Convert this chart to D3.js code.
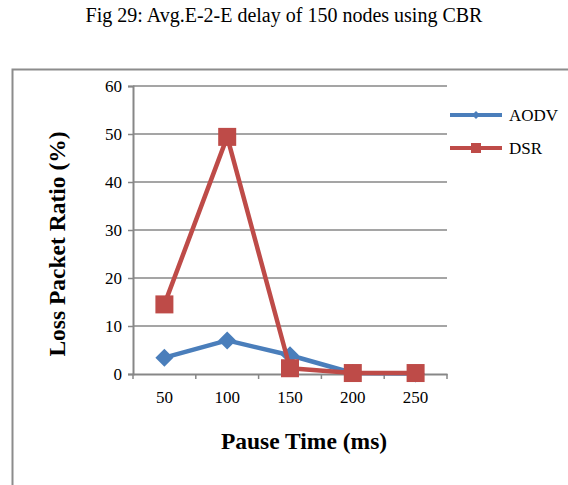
<!DOCTYPE html>
<html>
<head>
<meta charset="utf-8">
<script src="https://cdn.jsdelivr.net/npm/d3@7"></script>
<style>
  html, body { margin: 0; padding: 0; background: #fff; }
  svg { display: block; }
</style>
</head>
<body>
<svg id="chart" width="568" height="485"></svg>
<script>
// Pause time categories and loss packet ratio per routing protocol
const pauseTimes = ["50", "100", "150", "200", "250"];
const aodv = [3.4, 7.0, 3.9, 0.2, 0.1];
const dsr = [14.5, 49.4, 1.2, 0.2, 0.2];
const yTicks = [0, 10, 20, 30, 40, 50, 60];
const seriesNames = ["AODV", "DSR"];

const svg = d3.select("#chart");
const serif = "'Liberation Serif', 'Times New Roman', serif";

// Caption above the chart frame
svg.append("text")
  .attr("x", 284).attr("y", 22)
  .attr("text-anchor", "middle")
  .attr("font-family", serif).attr("font-size", 20)
  .text("Fig 29: Avg.E-2-E delay of 150 nodes using CBR");

// Chart frame (runs off the right and bottom edges)
svg.append("path")
  .attr("d", "M12.5,490 V69.5 H580")
  .attr("fill", "none").attr("stroke", "#8c8c8c").attr("stroke-width", 2);

const plot = { left: 133, right: 447, top: 86, bottom: 374 };

const x = d3.scaleBand().domain(pauseTimes).range([plot.left, plot.right]);
const y = d3.scaleLinear().domain([0, 60]).range([plot.bottom, plot.top]);

const grid = "#878787";

// Horizontal gridlines
svg.append("g").selectAll("line").data(yTicks.slice(1)).join("line")
  .attr("x1", plot.left).attr("x2", plot.right)
  .attr("y1", d => y(d)).attr("y2", d => y(d))
  .attr("stroke", grid).attr("stroke-width", 1.5);

// Y axis
const yAxis = svg.append("g").attr("transform", `translate(${plot.left},0)`)
  .call(d3.axisLeft(y).tickValues(yTicks).tickSize(5).tickPadding(6));
yAxis.select(".domain").attr("stroke", grid).attr("stroke-width", 2);
yAxis.selectAll(".tick line").attr("stroke", grid).attr("stroke-width", 1.5);
yAxis.selectAll(".tick text").attr("font-family", serif).attr("font-size", 17).attr("fill", "#000");

// X axis with tick marks at category boundaries
const xAxis = svg.append("g").attr("transform", `translate(0,${plot.bottom})`)
  .call(d3.axisBottom(x).tickSize(0).tickPadding(17));
xAxis.select(".domain").attr("stroke", grid).attr("stroke-width", 2);
xAxis.selectAll(".tick text").attr("font-family", serif).attr("font-size", 17).attr("fill", "#000");
const bounds = pauseTimes.map(d => x(d)).concat([x(pauseTimes[pauseTimes.length - 1]) + x.bandwidth()]);
xAxis.selectAll(".bound").data(bounds).join("line").attr("class", "bound")
  .attr("x1", d => d).attr("x2", d => d).attr("y1", 0).attr("y2", 5)
  .attr("stroke", grid).attr("stroke-width", 1.5);

// Axis titles
svg.append("text")
  .attr("x", 304).attr("y", 449)
  .attr("text-anchor", "middle")
  .attr("font-family", serif).attr("font-size", 23.5).attr("font-weight", "bold")
  .text("Pause Time (ms)");
svg.append("text")
  .attr("transform", "translate(65,244) rotate(-90)")
  .attr("text-anchor", "middle")
  .attr("font-family", serif).attr("font-size", 23.5).attr("font-weight", "bold")
  .text("Loss Packet Ratio (%)");

const cx = d => x(d) + x.bandwidth() / 2;
const line = d3.line().x(d => cx(d.k)).y(d => y(d.v));

const series = [
  { name: seriesNames[0], values: aodv, color: "#4a7ebb", shape: "diamond" },
  { name: seriesNames[1], values: dsr, color: "#be4b48", shape: "square" }
];

function marker(g, shape, color, size) {
  if (shape === "diamond") {
    g.append("path")
      .attr("d", `M0,${-size} L${size},0 L0,${size} L${-size},0 Z`)
      .attr("fill", color);
  } else {
    g.append("rect")
      .attr("x", -size).attr("y", -size)
      .attr("width", 2 * size).attr("height", 2 * size)
      .attr("fill", color);
  }
}

series.forEach(s => {
  const pts = pauseTimes.map((k, i) => ({ k, v: s.values[i] }));
  svg.append("path").datum(pts)
    .attr("d", line)
    .attr("fill", "none").attr("stroke", s.color)
    .attr("stroke-width", 4.5).attr("stroke-linejoin", "round");
  pts.forEach(p => {
    const g = svg.append("g").attr("transform", `translate(${cx(p.k)},${y(p.v)})`);
    marker(g, s.shape, s.color, 9);
  });
});

// Legend
series.forEach((s, i) => {
  const ly = 115 + i * 33;
  svg.append("line")
    .attr("x1", 450).attr("x2", 502).attr("y1", ly).attr("y2", ly)
    .attr("stroke", s.color).attr("stroke-width", 4);
  const g = svg.append("g").attr("transform", `translate(476,${ly})`);
  marker(g, s.shape, s.color, s.shape === "diamond" ? 4 : 5);
  svg.append("text")
    .attr("x", 509).attr("y", ly + 6)
    .attr("font-family", serif).attr("font-size", 17)
    .text(s.name);
});
</script>
</body>
</html>
